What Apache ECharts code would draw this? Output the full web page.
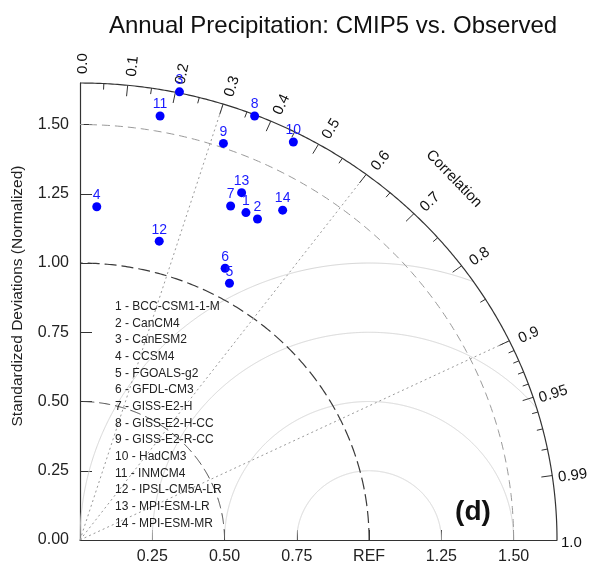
<!DOCTYPE html>
<html>
<head>
<meta charset="utf-8">
<script src="https://cdn.jsdelivr.net/npm/echarts@6/dist/echarts.min.js"></script>
<style>html,body{margin:0;padding:0;background:#fff}#c{width:595px;height:570px}</style>
</head>
<body>
<div id="c"></div>
<script>
// ---- Data ----
const modelNames = ['BCC-CSM1-1-M','CanCM4','CanESM2','CCSM4','FGOALS-g2','GFDL-CM3','GISS-E2-H',
  'GISS-E2-H-CC','GISS-E2-R-CC','HadCM3','INMCM4','IPSL-CM5A-LR','MPI-ESM-LR','MPI-ESM-MR'];
// x = std * correlation, y = std * sin(acos(correlation)) (normalized)
const xValues = [0.574, 0.614, 0.344, 0.058, 0.517, 0.502, 0.521, 0.604, 0.496, 0.738, 0.277, 0.274, 0.559, 0.701];
const yValues = [1.182, 1.159, 1.618, 1.203, 0.927, 0.981, 1.206, 1.531, 1.432, 1.437, 1.531, 1.079, 1.254, 1.191];
const axisTickValues = [0, 0.25, 0.5, 0.75, 1.0, 1.25, 1.5];
const xTickLabels = ['', '0.25', '0.50', '0.75', 'REF', '1.25', '1.50'];
const yTickLabels = ['0.00', '0.25', '0.50', '0.75', '1.00', '1.25', '1.50'];
const corrLabelValues = [0, 0.1, 0.2, 0.3, 0.4, 0.5, 0.6, 0.7, 0.8, 0.9, 0.95, 0.99, 1.0];
const corrLabelTexts = ['0.0','0.1','0.2','0.3','0.4','0.5','0.6','0.7','0.8','0.9','0.95','0.99','1.0'];
const corrMajorTicks = [0.1, 0.2, 0.3, 0.4, 0.5, 0.6, 0.7, 0.8, 0.9, 0.95, 0.99];
const corrMinorTicks = [0.05, 0.15, 0.25, 0.35, 0.45, 0.55, 0.65, 0.75, 0.85, 0.91, 0.92, 0.93, 0.94, 0.96, 0.97, 0.98];
const corrRefLines = [0.3, 0.6, 0.9];
const stdArcs = [0.5, 1.0, 1.5];
const rmsRadii = [0.25, 0.5, 0.75, 1.0];
const maxStd = 1.65;
const titleText = 'Annual Precipitation: CMIP5 vs. Observed';
const yAxisTitle = 'Standardized Deviations (Normalized)';
const panelLabel = '(d)';

const FONT = '"Liberation Sans", Arial, Helvetica, sans-serif';

const chart = echarts.init(document.getElementById('c'), null, {renderer: 'canvas'});

function findLabel(v, labels) {
  for (let i = 0; i < axisTickValues.length; i++) {
    if (Math.abs(axisTickValues[i] - v) < 1e-6) return labels[i];
  }
  return '';
}

function renderFrame(params, api) {
  if (params.dataIndex !== 0) return;
  const P = (x, y) => api.coord([x, y]);
  const ch = [];
  const O = P(0, 0);
  // RMS circles around REF
  rmsRadii.forEach(r => {
    const pts = [];
    const N = 900;
    for (let i = 0; i <= N; i++) {
      const t = Math.PI * i / N;
      const x = 1 + r * Math.cos(t), y = r * Math.sin(t);
      if (x < -1e-9) continue;
      if (x * x + y * y > maxStd * maxStd) continue;
      pts.push(P(Math.max(x, 0), y));
    }
    ch.push({type: 'polyline', shape: {points: pts}, style: {stroke: '#d6d6d6', lineWidth: 1, fill: null}});
  });
  // std arcs
  stdArcs.forEach(s => {
    const pts = [];
    for (let i = 0; i <= 200; i++) {
      const t = Math.PI / 2 * i / 200;
      pts.push(P(s * Math.cos(t), s * Math.sin(t)));
    }
    let st;
    if (s === 1.5) st = {stroke: '#9a9a9a', lineWidth: 1, lineDash: [8, 5], fill: null};
    else if (s === 1.0) st = {stroke: '#3a3a3a', lineWidth: 1.2, lineDash: [12, 5], fill: null};
    else st = {stroke: '#4a4a4a', lineWidth: 1, lineDash: [11, 5], fill: null};
    ch.push({type: 'polyline', shape: {points: pts}, style: st});
  });
  // correlation reference lines
  corrRefLines.forEach(c => {
    const s = Math.sqrt(1 - c * c);
    const e = P(maxStd * c, maxStd * s);
    ch.push({type: 'line', shape: {x1: O[0], y1: O[1], x2: e[0], y2: e[1]},
      style: {stroke: '#9a9a9a', lineWidth: 1, lineDash: [2, 3]}});
  });
  // outer arc
  {
    const pts = [];
    for (let i = 0; i <= 300; i++) {
      const t = Math.PI / 2 * i / 300;
      pts.push(P(maxStd * Math.cos(t), maxStd * Math.sin(t)));
    }
    ch.push({type: 'polyline', shape: {points: pts}, style: {stroke: '#333', lineWidth: 1.2, fill: null}});
  }
  // ticks
  const tick = (c, len) => {
    const s = Math.sqrt(1 - c * c);
    const p = P(maxStd * c, maxStd * s);
    const dx = O[0] - p[0], dy = O[1] - p[1];
    const L = Math.hypot(dx, dy);
    ch.push({type: 'line', shape: {x1: p[0], y1: p[1], x2: p[0] + dx / L * len, y2: p[1] + dy / L * len},
      style: {stroke: '#333', lineWidth: 1}});
  };
  corrMajorTicks.forEach(c => tick(c, 11));
  corrMinorTicks.forEach(c => tick(c, 6));
  // correlation labels
  corrLabelValues.forEach((c, i) => {
    const s = Math.sqrt(1 - c * c);
    const rr = c >= 0.999 ? 1.70 : 1.72;
    const p = P(rr * c, rr * s);
    const dx = p[0] - O[0], dy = p[1] - O[1];
    const L = Math.hypot(dx, dy);
    const ux = dx / L, uy = dy / L;
    const off = 3;
    ch.push({type: 'text', x: p[0] - uy * off, y: p[1] + ux * off, rotation: Math.atan2(-dy, dx),
      style: {text: corrLabelTexts[i], fill: '#111', fontSize: 15, fontFamily: FONT, align: 'center', verticalAlign: 'middle'}});
  });
  // "Correlation" title along arc
  {
    const c = 0.704, s = Math.sqrt(1 - c * c);
    const p = P(1.837 * c, 1.837 * s);
    const dx = p[0] - O[0], dy = p[1] - O[1];
    ch.push({type: 'text', x: p[0], y: p[1], rotation: Math.atan2(-dy, dx) - Math.PI / 2,
      style: {text: 'Correlation', fill: '#111', fontSize: 15, fontFamily: FONT, align: 'center', verticalAlign: 'middle'}});
  }
  return {type: 'group', children: ch};
}

const option = {
  animation: false,
  backgroundColor: '#ffffff',
  grid: {left: 80, right: 38, top: 83, bottom: 30, containLabel: false},
  xAxis: {
    type: 'value', min: 0, max: maxStd, interval: 0.25,
    axisLine: {show: true, lineStyle: {color: '#333', width: 1.2}},
    axisTick: {show: true, inside: true, length: 10, lineStyle: {color: '#333'}},
    splitLine: {show: false},
    axisLabel: {fontSize: 16, color: '#222', fontFamily: FONT, margin: 9, showMaxLabel: false,
      formatter: v => findLabel(v, xTickLabels)}
  },
  yAxis: {
    type: 'value', min: 0, max: maxStd, interval: 0.25,
    axisLine: {show: true, lineStyle: {color: '#333', width: 1.2}},
    axisTick: {show: true, inside: true, length: 12, lineStyle: {color: '#333'}},
    splitLine: {show: false},
    axisLabel: {fontSize: 16, color: '#222', fontFamily: FONT, margin: 11, showMaxLabel: false,
      formatter: v => findLabel(v, yTickLabels)}
  },
  series: [
    {
      type: 'custom', coordinateSystem: 'cartesian2d', silent: true, clip: false, z: 1,
      data: [[0, 0]], renderItem: renderFrame
    },
    {
      type: 'scatter', z: 5, symbol: 'circle', symbolSize: 9,
      itemStyle: {color: '#0000ff', opacity: 1},
      data: xValues.map((x, i) => [x, yValues[i]]),
      label: {show: true, position: 'top', distance: 0, color: '#1a1aff', fontSize: 14, fontFamily: FONT,
        formatter: p => String(p.dataIndex + 1)}
    }
  ],
  graphic: [
    {type: 'text', x: 333, y: 26, style: {text: titleText, fill: '#111', fontSize: 24, fontFamily: FONT, align: 'center', verticalAlign: 'middle'}},
    {type: 'text', x: 18, y: 296, rotation: Math.PI / 2, style: {text: yAxisTitle, fill: '#222', fontSize: 15.5, fontFamily: FONT, align: 'center', verticalAlign: 'middle'}},
    {type: 'text', x: 473, y: 512, style: {text: panelLabel, fill: '#111', fontSize: 28, fontWeight: 'bold', fontFamily: FONT, align: 'center', verticalAlign: 'middle'}}
  ].concat(modelNames.map((n, i) => ({
    type: 'text', x: 115, y: 306.7 + 16.67 * i, z: 10,
    style: {text: (i + 1) + ' - ' + n, fill: '#222', fontSize: 12, fontFamily: FONT, align: 'left', verticalAlign: 'middle'}
  })))
};
chart.setOption(option);
</script>
</body>
</html>
